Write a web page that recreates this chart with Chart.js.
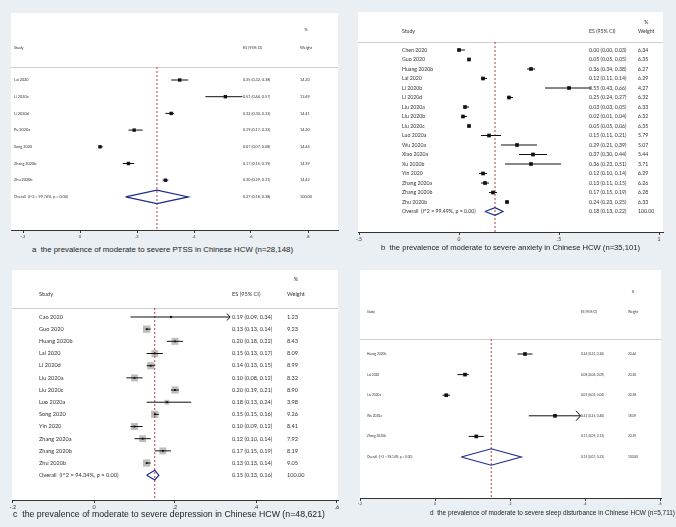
<!DOCTYPE html>
<html>
<head>
<meta charset="utf-8">
<script src="https://cdn.jsdelivr.net/npm/chart.js@4.4.1/dist/chart.umd.min.js"></script>
<style>
  body { margin: 0; width: 676px; height: 527px; overflow: hidden; position: relative; background: #e9eff2; }
  canvas { position: absolute; }
  .cap { position: absolute; white-space: pre; color: #222; line-height: 1; font-family: "Liberation Sans", Arial, sans-serif; transform-origin: 0 50%; }
</style>
</head>
<body>
<canvas id="ptss"></canvas>
<canvas id="anx"></canvas>
<canvas id="dep"></canvas>
<canvas id="sleep"></canvas>
<div class="cap" id="cap-ptss">a  the prevalence of moderate to severe PTSS in Chinese HCW (n=28,148)</div>
<div class="cap" id="cap-anx">b  the prevalence of moderate to severe anxiety in Chinese HCW (n=35,101)</div>
<div class="cap" id="cap-dep">c  the prevalence of moderate to severe depression in Chinese HCW (n=48,621)</div>
<div class="cap" id="cap-sleep">d  the prevalence of moderate to severe sleep disturbance in Chinese HCW (n=5,711)</div>
<script>
// a - PTSS
var ptssStudies = ["Lai 2020", "Li 2020a", "Li 2020d", "Pu 2020a", "Song 2020", "Zhang 2020b", "Zhu 2020b"];
var ptssEs   = [0.35, 0.51, 0.32, 0.19, 0.07, 0.17, 0.30];
var ptssLow  = [0.32, 0.44, 0.30, 0.17, 0.07, 0.15, 0.29];
var ptssHigh = [0.38, 0.57, 0.33, 0.22, 0.08, 0.19, 0.31];
var ptssWeight = [14.20, 13.69, 14.41, 14.20, 14.44, 14.39, 14.42];
var ptssOverall = [0.27, 0.16, 0.38];
var ptssHet = "I^2 = 99.76%, p = 0.00";
var ptssTicks = [-0.2, 0, 0.2, 0.4, 0.6, 0.8];

// b - anxiety
var anxStudies = ["Chen 2020", "Guo 2020", "Huang 2020b", "Lai 2020", "Li 2020b", "Li 2020d", "Liu 2020a", "Liu 2020b", "Liu 2020c",
  "Luo 2020a", "Wu 2020a", "Xiao 2020a", "Xu 2020b", "Yin 2020", "Zhang 2020a", "Zhang 2020b", "Zhu 2020b"];
var anxEs   = [0.00, 0.05, 0.36, 0.12, 0.55, 0.25, 0.03, 0.02, 0.05, 0.15, 0.29, 0.37, 0.36, 0.12, 0.13, 0.17, 0.24];
var anxLow  = [0.00, 0.05, 0.34, 0.11, 0.43, 0.24, 0.03, 0.01, 0.05, 0.11, 0.21, 0.30, 0.23, 0.10, 0.11, 0.15, 0.23];
var anxHigh = [0.03, 0.05, 0.38, 0.14, 0.66, 0.27, 0.05, 0.04, 0.06, 0.21, 0.39, 0.44, 0.51, 0.14, 0.15, 0.19, 0.25];
var anxWeight = [6.34, 6.35, 6.27, 6.29, 4.27, 6.32, 6.33, 6.32, 6.35, 5.79, 5.07, 5.44, 3.71, 6.29, 6.26, 6.28, 6.33];
var anxOverall = [0.18, 0.13, 0.22];
var anxHet = "I^2 = 99.49%, p = 0.00";
var anxTicks = [-0.5, 0, 0.5, 1];

// c - depression
var depStudies = ["Cao 2020", "Guo 2020", "Huang 2020b", "Lai 2020", "Li 2020d", "Liu 2020a", "Liu 2020c", "Luo 2020a",
  "Song 2020", "Yin 2020", "Zhang 2020a", "Zhang 2020b", "Zhu 2020b"];
var depEs   = [0.19, 0.13, 0.20, 0.15, 0.14, 0.10, 0.20, 0.18, 0.15, 0.10, 0.12, 0.17, 0.13];
var depLow  = [0.09, 0.13, 0.18, 0.13, 0.13, 0.08, 0.19, 0.13, 0.15, 0.09, 0.10, 0.15, 0.13];
var depHigh = [0.34, 0.14, 0.22, 0.17, 0.15, 0.12, 0.21, 0.24, 0.16, 0.12, 0.14, 0.19, 0.14];
var depWeight = [1.23, 9.23, 8.43, 8.09, 8.99, 8.32, 8.90, 3.98, 9.26, 8.41, 7.92, 8.19, 9.05];
var depOverall = [0.15, 0.13, 0.16];
var depHet = "I^2 = 94.34%, p = 0.00";
var depTicks = [-0.2, 0, 0.2, 0.4, 0.6];

// d - sleep disturbance
var sleepStudies = ["Huang 2020b", "Lai 2020", "Liu 2020a", "Wu 2020a", "Zhang 2020b"];
var sleepEs   = [0.24, 0.08, 0.03, 0.32, 0.11];
var sleepLow  = [0.22, 0.06, 0.02, 0.25, 0.09];
var sleepHigh = [0.26, 0.09, 0.04, 0.40, 0.13];
var sleepWeight = [20.44, 20.50, 20.58, 18.09, 20.39];
var sleepOverall = [0.15, 0.07, 0.23];
var sleepHet = "I^2 = 98.14%, p = 0.00";
var sleepTicks = [-0.2, 0, 0.2, 0.4, 0.6];

var textFont = "Lato, 'Open Sans', sans-serif";
var pad = 12;

var panels = [
  { id: "ptss", studies: ptssStudies, es: ptssEs, lo: ptssLow, hi: ptssHigh, w: ptssWeight, overall: ptssOverall, het: ptssHet, ticks: ptssTicks,
    box: { x: 11, y: 13, w: 327, h: 217 }, zeroX: 80, unit: 285, rowTop: 80, rowStep: 16.7, pctY: 30, headY: 48, lineY: 67,
    studyX: 3, esX: 232, wX: 289, font: 3.8, tickFont: 4, axisH: 12, dot: 2.4, boxes: false, clip: Infinity, arrow: 3,
    cap: { left: 32, width: 261, cy: 250, size: 8 } },
  { id: "anx", studies: anxStudies, es: anxEs, lo: anxLow, hi: anxHigh, w: anxWeight, overall: anxOverall, het: anxHet, ticks: anxTicks,
    box: { x: 358, y: 12, w: 305, h: 220 }, zeroX: 459, unit: 200, rowTop: 50, rowStep: 9.5, pctY: 22, headY: 31, lineY: 42,
    studyX: 44, esX: 231, wX: 280, font: 5.2, tickFont: 5, axisH: 13, dot: 2.6, boxes: false, clip: Infinity, arrow: 3,
    cap: { left: 381, width: 259, cy: 248, size: 8 } },
  { id: "dep", studies: depStudies, es: depEs, lo: depLow, hi: depHigh, w: depWeight, overall: depOverall, het: depHet, ticks: depTicks,
    box: { x: 12, y: 270, w: 326, h: 230 }, zeroX: 94, unit: 405, rowTop: 317, rowStep: 12.17, pctY: 279, headY: 294, lineY: 308,
    studyX: 27, esX: 220, wX: 275, font: 5.6, tickFont: 5.5, axisH: 13, dot: 1.3, boxes: true, clip: 0.336, arrow: 3.5,
    cap: { left: 13, width: 312, cy: 514, size: 8.6 } },
  { id: "sleep", studies: sleepStudies, es: sleepEs, lo: sleepLow, hi: sleepHigh, w: sleepWeight, overall: sleepOverall, het: sleepHet, ticks: sleepTicks,
    box: { x: 360, y: 270, w: 301, h: 228 }, zeroX: 435, unit: 375, rowTop: 354, rowStep: 20.6, pctY: 292, headY: 312, lineY: 339,
    studyX: 7, esX: 221, wX: 268, font: 3.2, tickFont: 3.5, axisH: 10, dot: 2.6, boxes: false, clip: 0.388, arrow: 5,
    cap: { left: 430, width: 245, cy: 513, size: 8 } }
];

function fmt(v) { return v.toFixed(2); }

function tickText(v) {
  var s = String(+v.toFixed(2));
  return s.replace(/^(-?)0\./, "$1.");
}

function forestPlugin(p) {
  var row = function (py) { return (py - p.rowTop) / p.rowStep; };
  return {
    id: "forest",
    beforeDraw: function (chart) {
      var a = chart.chartArea, ctx = chart.ctx;
      ctx.save();
      ctx.fillStyle = "#ffffff";
      ctx.fillRect(a.left, a.top, a.right - a.left, a.bottom - a.top);
      ctx.restore();
    },
    beforeDatasetsDraw: function (chart) {
      var a = chart.chartArea, ctx = chart.ctx, ys = chart.scales.y;
      ctx.save();
      // header rule
      var ly = Math.round(ys.getPixelForValue(row(p.lineY))) + 0.5;
      ctx.strokeStyle = "#cfcfcf";
      ctx.lineWidth = 1;
      ctx.beginPath(); ctx.moveTo(a.left, ly); ctx.lineTo(a.right, ly); ctx.stroke();

      ctx.fillStyle = "#333";
      ctx.font = p.font + "px " + textFont;
      ctx.textBaseline = "middle";
      ctx.textAlign = "left";
      var hy = ys.getPixelForValue(row(p.headY));
      ctx.fillText("Study", a.left + p.studyX, hy);
      ctx.fillText("ES (95% CI)", a.left + p.esX, hy);
      ctx.fillText("Weight", a.left + p.wX, hy);
      var ww = ctx.measureText("Weight").width;
      ctx.textAlign = "center";
      ctx.fillText("%", a.left + p.wX + ww / 2, ys.getPixelForValue(row(p.pctY)));
      ctx.textAlign = "left";

      for (var i = 0; i < p.studies.length; i++) {
        var y = ys.getPixelForValue(i);
        ctx.fillText(p.studies[i], a.left + p.studyX, y);
        ctx.fillText(fmt(p.es[i]) + " (" + fmt(p.lo[i]) + ", " + fmt(p.hi[i]) + ")", a.left + p.esX, y);
        ctx.fillText(fmt(p.w[i]), a.left + p.wX, y);
      }
      var oy = ys.getPixelForValue(p.studies.length);
      var ov = p.overall;
      ctx.fillText("Overall  (" + p.het + ")", a.left + p.studyX, oy);
      ctx.fillText(fmt(ov[0]) + " (" + fmt(ov[1]) + ", " + fmt(ov[2]) + ")", a.left + p.esX, oy);
      ctx.fillText("100.00", a.left + p.wX, oy);
      ctx.restore();
    },
    afterDatasetsDraw: function (chart) {
      var ctx = chart.ctx, xs = chart.scales.x, ys = chart.scales.y;
      ctx.save();
      ctx.strokeStyle = "#111";
      ctx.lineWidth = 1;
      for (var i = 0; i < p.hi.length; i++) {
        if (p.hi[i] < p.clip) continue;
        var x = xs.getPixelForValue(p.clip), y = ys.getPixelForValue(i), s = p.arrow;
        ctx.beginPath();
        ctx.moveTo(x - s * 0.9, y - s);
        ctx.lineTo(x, y);
        ctx.lineTo(x - s * 0.9, y + s);
        ctx.stroke();
      }
      ctx.restore();
    }
  };
}

panels.forEach(function (p) {
  var canvas = document.getElementById(p.id);
  canvas.width = p.box.w + pad * 2;
  canvas.height = p.box.h + pad + p.axisH;
  canvas.style.left = (p.box.x - pad) + "px";
  canvas.style.top = (p.box.y - pad) + "px";

  var n = p.studies.length;
  var yMin = (p.box.y - p.rowTop) / p.rowStep;
  var yMax = (p.box.y + p.box.h - p.rowTop) / p.rowStep;
  var lineRow = (p.lineY - p.rowTop) / p.rowStep;

  var ciData = [];
  for (var i = 0; i < n; i++) {
    ciData.push({ x: p.lo[i], y: i }, { x: Math.min(p.hi[i], p.clip), y: i }, { x: null, y: null });
  }
  var dots = p.es.map(function (v, i) { return { x: v, y: i }; });
  var ov = p.overall;
  var diamond = [
    { x: ov[1], y: n }, { x: ov[0], y: n - 0.4 }, { x: ov[2], y: n }, { x: ov[0], y: n + 0.4 }, { x: ov[1], y: n }
  ];

  var datasets = [
    { label: "estimate", data: dots, pointStyle: "rect", pointRadius: p.dot, backgroundColor: "#111", borderWidth: 0, order: 1 },
    { label: "overall", data: diamond, showLine: true, pointRadius: 0, borderColor: "#1f2b8c", borderWidth: 1.2, fill: false, order: 2 },
    { label: "ci", data: ciData, showLine: true, spanGaps: false, pointRadius: 0, borderColor: "#111", borderWidth: 1, order: 3 },
    { label: "pooled", data: [{ x: ov[0], y: lineRow }, { x: ov[0], y: yMax }], showLine: true, pointRadius: 0,
      borderColor: "#b5413c", borderWidth: 1, borderDash: [2, 2], order: 4 }
  ];
  if (p.boxes) {
    datasets.push({ label: "weight", data: dots.slice(), pointStyle: "rect",
      pointRadius: p.w.map(function (w) { return 1.7 * Math.sqrt(w); }),
      backgroundColor: "#bdbdbd", borderWidth: 0, order: 5 });
  }

  new Chart(canvas, {
    type: "scatter",
    data: { datasets: datasets },
    options: {
      responsive: false,
      animation: false,
      layout: { padding: { left: pad, right: pad, top: pad, bottom: 0 } },
      plugins: { legend: { display: false }, tooltip: { enabled: false } },
      scales: {
        x: {
          type: "linear",
          min: (p.box.x - p.zeroX) / p.unit,
          max: (p.box.x + p.box.w - p.zeroX) / p.unit,
          afterBuildTicks: function (scale) { scale.ticks = p.ticks.map(function (v) { return { value: v }; }); },
          afterFit: function (scale) { scale.height = p.axisH; },
          grid: { drawOnChartArea: false, drawTicks: true, tickLength: 3, color: "#333" },
          border: { display: true, color: "#333", width: 1 },
          ticks: { padding: 1, color: "#333", font: { size: p.tickFont, family: textFont }, maxRotation: 0,
            autoSkip: false, callback: function (v) { return tickText(v); } }
        },
        y: { type: "linear", display: false, reverse: true, min: yMin, max: yMax }
      }
    },
    plugins: [forestPlugin(p)]
  });

  // caption: fixed glyph size, squeezed to the measured width
  var cap = document.getElementById("cap-" + p.id);
  cap.style.fontSize = p.cap.size + "px";
  var w0 = cap.getBoundingClientRect().width;
  var h = cap.getBoundingClientRect().height;
  cap.style.transform = "scaleX(" + (p.cap.width / w0) + ")";
  cap.style.left = p.cap.left + "px";
  cap.style.top = (p.cap.cy - h / 2) + "px";
});
</script>
</body>
</html>
